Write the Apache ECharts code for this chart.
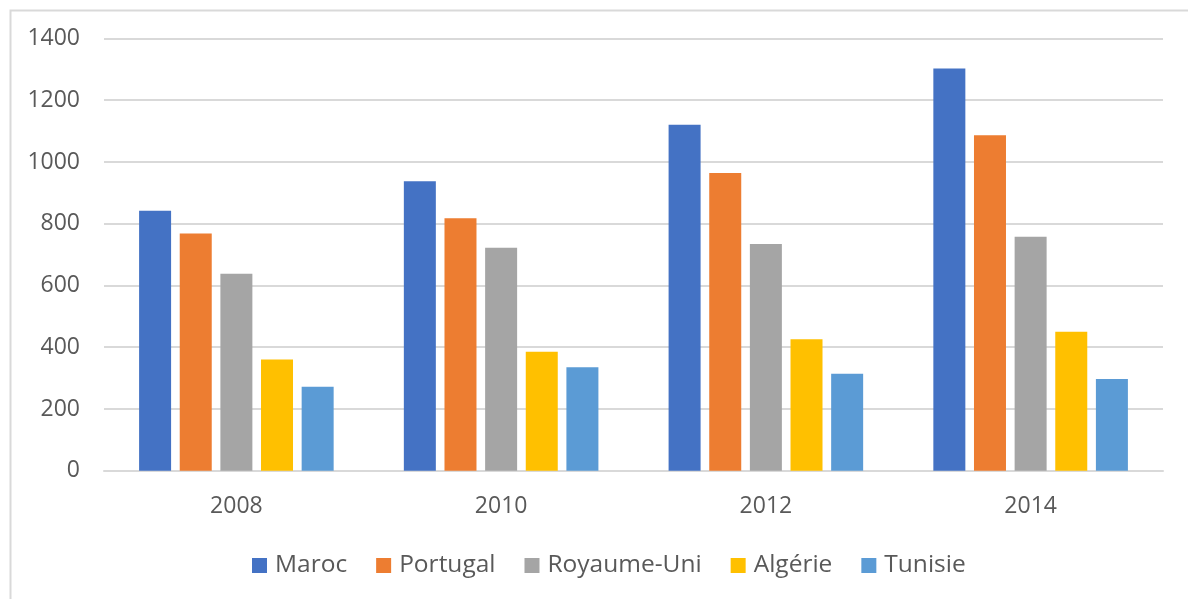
<!DOCTYPE html>
<html>
<head>
<meta charset="utf-8">
<script src="https://cdn.jsdelivr.net/npm/echarts@6/dist/echarts.min.js"></script>
<style>
html,body{margin:0;padding:0;background:#fff;}
#chart{width:1188px;height:599px;}
</style>
</head>
<body>
<div id="chart"></div>
<script>
const categories = ['2008', '2010', '2012', '2014'];
const seriesNames = ['Maroc', 'Portugal', 'Royaume-Uni', 'Algérie', 'Tunisie'];
const maroc = [842, 938, 1121, 1303];
const portugal = [768, 818, 964, 1087];
const royaumeUni = [638, 722, 734, 758];
const algerie = [360, 385, 426, 450];
const tunisie = [272, 335, 314, 297];
const colors = ['#4472C4', '#ED7D31', '#A5A5A5', '#FFC000', '#5B9BD5'];

const values = [maroc, portugal, royaumeUni, algerie, tunisie];
const font = '"Open Sans", "Liberation Sans", sans-serif';

const chart = echarts.init(document.getElementById('chart'));
chart.setOption({
  animation: false,
  backgroundColor: '#ffffff',
  color: colors,
  graphic: [{
    type: 'rect',
    left: 8, top: 8,
    shape: { x: 0, y: 0, width: 1300, height: 700 },
    style: { fill: 'none', stroke: '#d9d9d9', lineWidth: 2 },
    silent: true
  }],
  grid: { left: 104, right: 25, top: 38.5, bottom: 128.3, containLabel: false },
  legend: {
    left: 247, top: 548,
    itemWidth: 15, itemHeight: 15, itemGap: 29,
    icon: 'rect',
    textStyle: { fontFamily: font, fontSize: 24.5, color: '#595959', padding: [0, 0, 0, 3] },
    data: seriesNames
  },
  xAxis: {
    type: 'category',
    data: categories,
    axisLine: { show: true, lineStyle: { color: '#d9d9d9', width: 2 } },
    axisTick: { show: false },
    axisLabel: { fontFamily: font, fontSize: 23, color: '#595959', margin: 24 }
  },
  yAxis: {
    type: 'value',
    min: 0, max: 1400, interval: 200,
    axisLine: { show: false },
    axisTick: { show: false },
    splitLine: { lineStyle: { color: '#d9d9d9', width: 2 } },
    axisLabel: { fontFamily: font, fontSize: 23, color: '#595959', margin: 24, formatter: v => String(v) }
  },
  series: seriesNames.map((name, i) => ({
    name: name,
    type: 'bar',
    data: values[i],
    barWidth: 32,
    barGap: '27%',
    itemStyle: { color: colors[i] }
  }))
});
</script>
</body>
</html>
